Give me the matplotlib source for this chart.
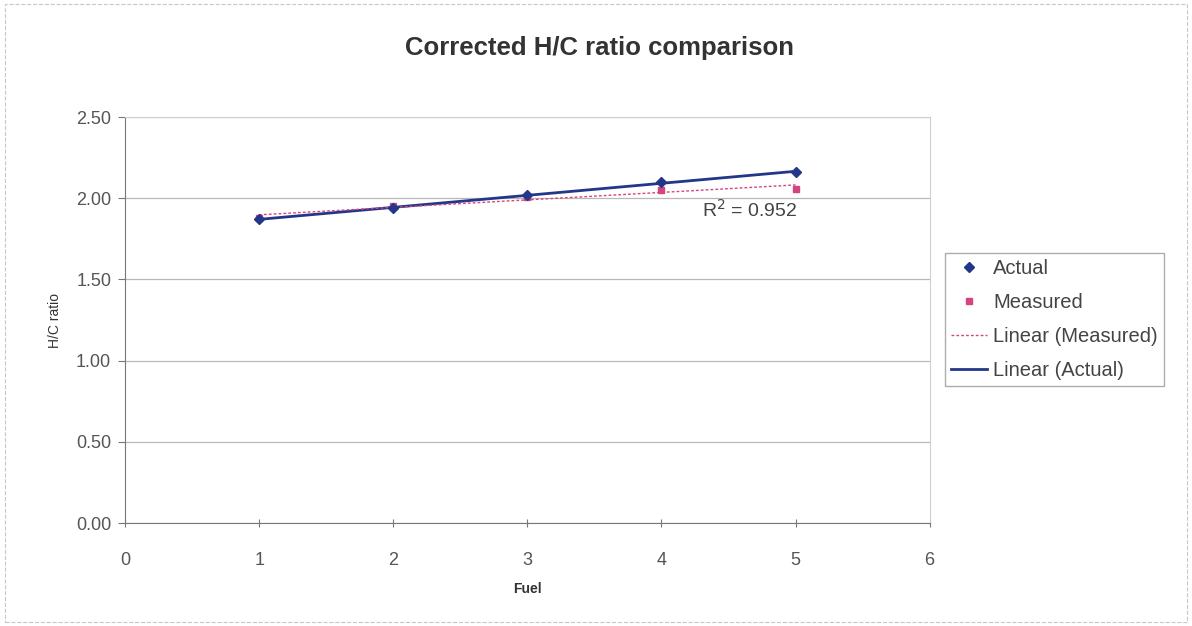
import numpy as np
import matplotlib
matplotlib.use('Agg')
import matplotlib.pyplot as plt
from matplotlib.patches import Rectangle

plt.rcParams['font.family'] = ['Liberation Sans', 'DejaVu Sans']

# data
fuel = [1, 2, 3, 4, 5]
actual = [1.87, 1.94, 2.02, 2.10, 2.16]
measured = [1.88, 1.95, 2.01, 2.05, 2.06]
y_ticks = [0.0, 0.5, 1.0, 1.5, 2.0, 2.5]
x_ticks = [0, 1, 2, 3, 4, 5, 6]

navy = '#22378a'
pink = '#d4457f'

fig = plt.figure(figsize=(11.92, 6.26), dpi=100)
fig.patches.append(Rectangle((0.004, 0.006), 0.992, 0.988, transform=fig.transFigure,
                             fill=False, edgecolor='#c8c8c8', linewidth=0.8, linestyle='--'))
ax = fig.add_axes([0.1049, 0.1645, 0.675, 0.6485])

# linear trend lines
xs = np.array(fuel, dtype=float)
pa = np.polyfit(xs, actual, 1)
pm = np.polyfit(xs, measured, 1)

ax.plot(fuel, actual, linestyle='none', marker='D', markersize=5, color=navy, label='Actual', zorder=4)
ax.plot(fuel, measured, linestyle='none', marker='s', markersize=5, color=pink, label='Measured', zorder=3)
ax.plot(xs, np.polyval(pm, xs), color=pink, linewidth=1.0, linestyle=(0, (2, 1.5)),
        label='Linear (Measured)', zorder=3)
ax.plot(xs, np.polyval(pa, xs), color=navy, linewidth=2.0, label='Linear (Actual)', zorder=2)

ax.text(4.3, 1.93, r'R$^2$ = 0.952', fontsize=14, color='#444444', ha='left', va='center')

ax.set_xlim(0, 6)
ax.set_ylim(0, 2.5)
ax.set_xticks(x_ticks)
ax.set_yticks(y_ticks)
ax.set_yticklabels(['%.2f' % v for v in y_ticks])
ax.yaxis.grid(True, color='#b8b8b8', linewidth=0.9)
ax.set_axisbelow(True)
ax.tick_params(axis='both', labelsize=13, labelcolor='#555555', color='#777777')
ax.tick_params(axis='x', direction='inout', length=6, pad=18)
ax.tick_params(axis='y', direction='out', length=5, pad=5)

for side in ['left', 'bottom']:
    ax.spines[side].set_color('#777777')
for side in ['top', 'right']:
    ax.spines[side].set_color('#d0d0d0')

ax.set_xlabel('Fuel', fontsize=10, fontweight='bold', color='#333333', labelpad=9)
ax.set_ylabel('H/C ratio', fontsize=10, color='#333333', labelpad=10)

fig.text(0.503, 0.924, 'Corrected H/C ratio comparison', ha='center', va='center',
         fontsize=18.5, fontweight='bold', color='#333333')

handles, labels = ax.get_legend_handles_labels()
leg = fig.legend(handles, labels, loc='upper left', bbox_to_anchor=(0.784, 0.612),
                 fontsize=14.5, frameon=True, fancybox=False, edgecolor='#999999',
                 handlelength=1.8, handletextpad=0.3, labelspacing=0.75, borderpad=0.3)
for t in leg.get_texts():
    t.set_color('#444444')

plt.savefig('out.png', dpi=100)
